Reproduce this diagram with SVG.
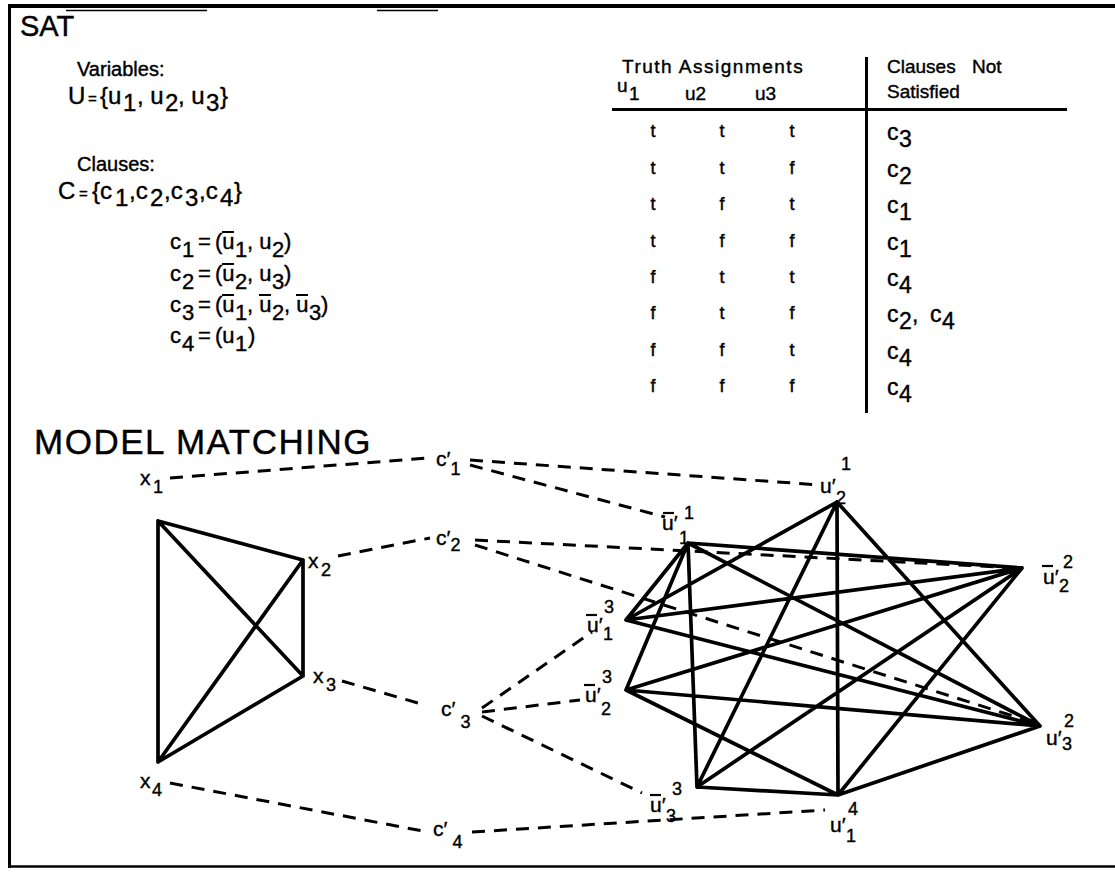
<svg xmlns="http://www.w3.org/2000/svg" width="1115" height="872" viewBox="0 0 1115 872">
<style>
.t{font-family:"Liberation Sans",Arial,Helvetica,sans-serif;fill:#000;stroke:#000;stroke-width:0.4}
.m{font-size:24px}
.s{font-size:22px}
.k{font-size:23px}
.h{font-size:19px}
.g{font-size:21px}
.gs{font-size:18px}
.e{stroke:#000;stroke-width:3.7;stroke-linecap:round;fill:none}
.d{stroke:#000;stroke-width:3;stroke-dasharray:13 9;fill:none}
.b{stroke:#000;stroke-width:2.2;fill:none}
.f{stroke:#000;fill:none}
</style>
<rect width="1115" height="872" fill="#fff"/>
<g id="frame">
<path class="f" stroke-width="4" d="M8 6H1115"/>
<path class="f" stroke-width="3" d="M9.5 5V868"/>
<path class="f" stroke-width="2.5" d="M8 866.5H1115"/>
<path class="f" stroke-width="1.3" d="M66 10.5H207M377 10.5H438"/>
</g>
<g id="sat">
<text class="t" x="20" y="36" font-size="29">SAT</text>
<text class="t" x="77" y="76" font-size="20">Variables:</text>
<text class="t m" y="104"><tspan x="68">U</tspan><tspan x="88" font-size="15">=</tspan><tspan x="100">{u</tspan><tspan x="123" y="111">1</tspan><tspan x="137" y="104">, u</tspan><tspan x="165" y="111">2</tspan><tspan x="178" y="104">, u</tspan><tspan x="206" y="111">3</tspan><tspan x="220" y="104">}</tspan></text>
<text class="t" x="77" y="171" font-size="20">Clauses:</text>
<text class="t m" y="199"><tspan x="58">C</tspan><tspan x="79" font-size="15">=</tspan><tspan x="92">{c</tspan><tspan x="115" y="206">1</tspan><tspan x="129" y="199">,c</tspan><tspan x="150" y="206">2</tspan><tspan x="164" y="199">,c</tspan><tspan x="185" y="206">3</tspan><tspan x="199" y="199">,c</tspan><tspan x="220" y="206">4</tspan><tspan x="234" y="199">}</tspan></text>
<text class="t s" y="249"><tspan x="170">c</tspan><tspan x="182" y="257">1</tspan><tspan x="198" y="249">=</tspan><tspan x="215">(u</tspan><tspan x="235" y="257">1</tspan><tspan x="247" y="249">, u</tspan><tspan x="272" y="257">2</tspan><tspan x="284" y="249">)</tspan></text>
<text class="t s" y="281"><tspan x="170">c</tspan><tspan x="182" y="289">2</tspan><tspan x="198" y="281">=</tspan><tspan x="215">(u</tspan><tspan x="235" y="289">2</tspan><tspan x="247" y="281">, u</tspan><tspan x="272" y="289">3</tspan><tspan x="284" y="281">)</tspan></text>
<text class="t s" y="312"><tspan x="170">c</tspan><tspan x="182" y="320">3</tspan><tspan x="198" y="312">=</tspan><tspan x="215">(u</tspan><tspan x="235" y="320">1</tspan><tspan x="247" y="312">, u</tspan><tspan x="272" y="320">2</tspan><tspan x="284" y="312">, u</tspan><tspan x="309" y="320">3</tspan><tspan x="321" y="312">)</tspan></text>
<text class="t s" y="343"><tspan x="170">c</tspan><tspan x="182" y="351">4</tspan><tspan x="198" y="343">=</tspan><tspan x="215">(u</tspan><tspan x="235" y="351">1</tspan><tspan x="248" y="343">)</tspan></text>
<path class="b" d="M222 232H234M222 264H234M222 295H234M259 295H271M296 295H308"/>
</g>
<g id="table">
<text class="t h" x="622" y="73" letter-spacing="1.5">Truth Assignments</text>
<text class="t h" x="887" y="73">Clauses</text>
<text class="t h" x="972" y="73">Not</text>
<text class="t h" x="887" y="98">Satisfied</text>
<text class="t h" y="92"><tspan x="617">u</tspan><tspan x="629" y="100">1</tspan></text>
<text class="t h" x="685" y="100">u2</text>
<text class="t h" x="755" y="100">u3</text>
<path class="f" stroke-width="3" d="M612 109.5H1067M866.5 57V413"/>
<g class="t" font-size="18" text-anchor="middle">
<text y="137"><tspan x="653">t</tspan><tspan x="722">t</tspan><tspan x="792">t</tspan></text>
<text y="174"><tspan x="653">t</tspan><tspan x="722">t</tspan><tspan x="792">f</tspan></text>
<text y="210"><tspan x="653">t</tspan><tspan x="722">f</tspan><tspan x="792">t</tspan></text>
<text y="247"><tspan x="653">t</tspan><tspan x="722">f</tspan><tspan x="792">f</tspan></text>
<text y="283"><tspan x="653">f</tspan><tspan x="722">t</tspan><tspan x="792">t</tspan></text>
<text y="319"><tspan x="653">f</tspan><tspan x="722">t</tspan><tspan x="792">f</tspan></text>
<text y="356"><tspan x="653">f</tspan><tspan x="722">f</tspan><tspan x="792">t</tspan></text>
<text y="392"><tspan x="653">f</tspan><tspan x="722">f</tspan><tspan x="792">f</tspan></text>
</g>
<g class="t k">
<text y="140"><tspan x="887">c</tspan><tspan x="899" y="147">3</tspan></text>
<text y="177"><tspan x="887">c</tspan><tspan x="899" y="184">2</tspan></text>
<text y="213"><tspan x="887">c</tspan><tspan x="899" y="220">1</tspan></text>
<text y="250"><tspan x="887">c</tspan><tspan x="899" y="257">1</tspan></text>
<text y="286"><tspan x="887">c</tspan><tspan x="899" y="293">4</tspan></text>
<text y="322"><tspan x="887">c</tspan><tspan x="899" y="329">2</tspan><tspan x="912" y="322">,</tspan><tspan x="930">c</tspan><tspan x="942" y="329">4</tspan></text>
<text y="359"><tspan x="887">c</tspan><tspan x="899" y="366">4</tspan></text>
<text y="395"><tspan x="887">c</tspan><tspan x="899" y="402">4</tspan></text>
</g>
</g>
<text class="t" x="34" y="454" font-size="35" letter-spacing="1.5">MODEL MATCHING</text>
<g id="connectors">
<path class="e" d="M158 521L303 560M158 521L303 676M158 521L158 762M303 560L303 676M303 560L158 762M303 676L158 762"/>
<path class="e" d="M688 543L1022 568M688 543L1040 726M688 543L626 620M688 543L626 690M688 543L697 787M837 502L1040 726M837 502L626 620M837 502L697 787M837 502L838 795M1022 568L626 620M1022 568L626 690M1022 568L697 787M1022 568L838 795M1040 726L626 620M1040 726L626 690M1040 726L838 795M626 690L838 795M697 787L838 795"/>
<path class="d" d="M170 478L428 458M470 460L820 485M470 465L665 517M338 556L430 538M475 540L1018 568M475 545L1032 722M342 681L425 705M482 708L592 632M482 712L580 700M482 716L642 793M170 783L428 832M472 832L825 810"/>
</g>
<g id="x1"><text class="t g" x="140" y="485">x<tspan x="153" y="493" class="gs">1</tspan></text></g>
<g id="x2"><text class="t g" x="308" y="568">x<tspan x="321" y="576" class="gs">2</tspan></text></g>
<g id="x3"><text class="t g" x="313" y="683">x<tspan x="326" y="691" class="gs">3</tspan></text></g>
<g id="x4"><text class="t g" x="140" y="788">x<tspan x="152" y="796" class="gs">4</tspan></text></g>
<g id="c1"><text class="t g" x="436" y="466">c′<tspan class="gs" dx="0" dy="9">1</tspan></text></g>
<g id="c2"><text class="t g" x="436" y="545">c′<tspan class="gs" dx="0" dy="6">2</tspan></text></g>
<g id="c3"><text class="t g" x="441" y="716">c′<tspan class="gs" dx="5" dy="12">3</tspan></text></g>
<g id="c4"><text class="t g" x="433" y="836">c′<tspan class="gs" dx="5" dy="12">4</tspan></text></g>
<g id="n-u1-1"><text class="t g" x="662" y="530">u′<tspan class="gs" x="679" y="544">1</tspan><tspan class="gs" x="684" y="519">1</tspan></text><path class="b" d="M663 513H674"/></g>
<g id="n-u2-1"><text class="t g" x="820" y="493">u′<tspan class="gs" x="836" y="504">2</tspan><tspan class="gs" x="841" y="470">1</tspan></text></g>
<g id="n-u2-2"><text class="t g" x="1043" y="584">u′<tspan class="gs" x="1059" y="592">2</tspan><tspan class="gs" x="1063" y="568">2</tspan></text><path class="b" d="M1042 566H1053"/></g>
<g id="n-u3-2"><text class="t g" x="1046" y="745">u′<tspan class="gs" x="1062" y="750">3</tspan><tspan class="gs" x="1064" y="727">2</tspan></text></g>
<g id="n-u1-4"><text class="t g" x="830" y="832">u′<tspan class="gs" x="846" y="842">1</tspan><tspan class="gs" x="848" y="815">4</tspan></text></g>
<g id="n-u3-3"><text class="t g" x="650" y="812">u′<tspan class="gs" x="666" y="822">3</tspan><tspan class="gs" x="672" y="795">3</tspan></text><path class="b" d="M650 795H661"/></g>
<g id="n-u2-3"><text class="t g" x="585" y="702">u′<tspan class="gs" x="601" y="715">2</tspan><tspan class="gs" x="602" y="683">3</tspan></text><path class="b" d="M584 685H595"/></g>
<g id="n-u1-3"><text class="t g" x="587" y="632">u′<tspan class="gs" x="603" y="640">1</tspan><tspan class="gs" x="604" y="613">3</tspan></text><path class="b" d="M586 615H597"/></g>
</svg>
